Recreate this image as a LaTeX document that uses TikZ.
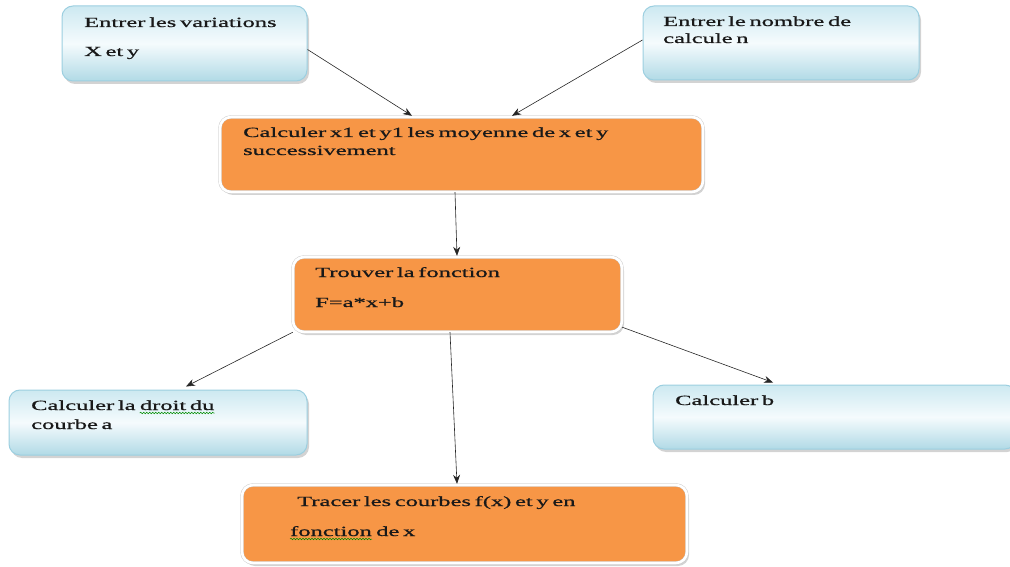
\documentclass[tikz,border=0pt]{standalone}
\usepackage{fontspec}
\setmainfont{Liberation Serif}[FakeStretch=1.75, WordSpace=0.6, FakeBold=0.8]
\usetikzlibrary{arrows.meta,shadows,decorations.pathmorphing}
\definecolor{boxorange}{HTML}{F79646}
\definecolor{blueedge}{HTML}{9CCFE0}
\definecolor{bluetop}{HTML}{CDE9F1}
\definecolor{bluemid}{HTML}{F5FBFD}
\definecolor{bluebot}{HTML}{B1DAE6}
\tikzset{
  bluebox/.style={rectangle, draw=blueedge, line width=1pt, rounded corners=11pt,
    top color=bluetop, bottom color=bluebot, middle color=bluemid,
    drop shadow={shadow xshift=2pt, shadow yshift=-3pt, opacity=0.35}},
  orangebox/.style={rectangle, fill=boxorange, draw=gray!45, double=white,
    double distance=2.6pt, rounded corners=11pt,
    drop shadow={shadow xshift=2pt, shadow yshift=-3pt, opacity=0.35}},
  txt/.style={anchor=base west, inner sep=0pt, text=black!90,
    font=\fontsize{14}{17}\selectfont},
  spellmark/.style={draw=green!55!black, line width=0.5pt,
    decorate, decoration={snake, amplitude=0.8pt, segment length=3pt}},
  link/.style={-{Stealth[length=9pt,width=7pt]}, line width=0.6pt, black!85}
}
\begin{document}
\begin{tikzpicture}[x=1pt,y=-1pt]
\useasboundingbox (0,0) rectangle (1010,567);

% input boxes
\node[bluebox, minimum width=245pt, minimum height=75pt] (A) at (184.5,43.5) {};
\node[bluebox, minimum width=276pt, minimum height=74pt] (B) at (781,43) {};
% processing boxes
\node[orangebox, minimum width=483pt, minimum height=75pt] (C) at (461.5,154.5) {};
\node[orangebox, minimum width=329pt, minimum height=75pt] (D) at (457.5,294.5) {};
% result boxes
\node[bluebox, minimum width=298pt, minimum height=65pt] (E) at (158,422.5) {};
\node[bluebox, minimum width=363pt, minimum height=64pt] (F) at (834.5,417) {};
\node[orangebox, minimum width=445pt, minimum height=78pt] (G) at (464.5,524) {};

% texts
\node[txt] (a1) at (84,27) {Entrer les variations};
\node[txt] (a2) at (84,56) {X et y};
\node[txt] (b1) at (663,26) {Entrer le nombre de};
\node[txt] (b2) at (663,43) {calcule n};
\node[txt] (c1) at (243,137) {Calculer x1 et y1 les moyenne de x et y};
\node[txt] (c2) at (243,155) {successivement};
\node[txt] (d1) at (315,277) {Trouver la fonction};
\node[txt] (d2) at (315,307) {F=a*x+b};
\node[txt] (e1) at (31,410) {Calculer la};
\node[txt, xshift=4pt] (e1w) at (e1.base east) {droit du};
\node[txt] (e2) at (31,429) {courbe a};
\node[txt] (f1) at (675,405) {Calculer b};
\node[txt] (g1) at (297,506) {Tracer les courbes f(x) et y en};
\node[txt] (g2w) at (290,536) {fonction};
\node[txt, xshift=4pt] (g2) at (g2w.base east) {de x};

% spelling marks under words
\draw[spellmark] ([yshift=-3pt]e1w.base west) -- ([yshift=-3pt]e1w.base east);
\draw[spellmark] ([yshift=-3pt]g2w.base west) -- ([yshift=-3pt]g2w.base east);

% connectors
\draw[link] ([yshift=-6pt]A.east) -- ([xshift=-49.5pt,yshift=1pt]C.north);
\draw[link] ([yshift=3pt]B.west) -- ([xshift=50.5pt,yshift=1pt]C.north);
\draw[link] ([xshift=-6.5pt]C.south) -- ([xshift=-0.5pt,yshift=1pt]D.north);
\draw[link] (D.south west) -- ([xshift=28pt,yshift=3pt]E.north);
\draw[link] ([xshift=-7.5pt]D.south) -- ([xshift=-7.5pt,yshift=1pt]G.north);
\draw[link] ([yshift=5pt]D.south east) -- ([xshift=-61.5pt,yshift=2pt]F.north);
\end{tikzpicture}
\end{document}
